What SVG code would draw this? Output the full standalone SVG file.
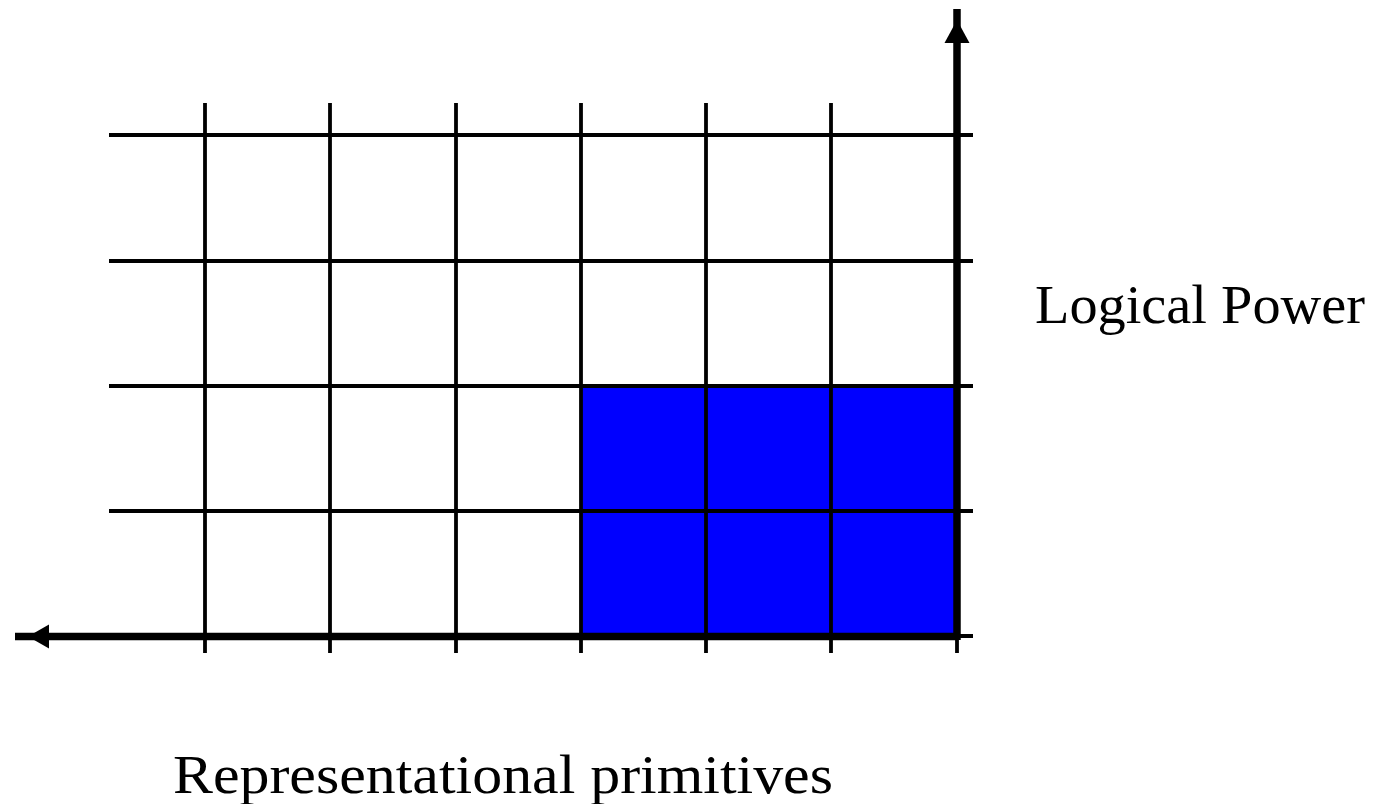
<svg xmlns="http://www.w3.org/2000/svg" width="1392" height="804" viewBox="0 0 1392 804">
<style>
.grid{stroke:#000;stroke-width:3.8;fill:none}
.axis{stroke:#000;stroke-width:7.5;fill:none}
.lbl{font-family:"Liberation Serif","DejaVu Serif",serif;font-size:54px;fill:#000}
</style>
<rect width="1392" height="804" fill="#fff"/>
<g id="filled-region">
<rect x="581" y="386" width="376" height="250" fill="#0000ff"/>
</g>
<g id="grid" class="grid">
<line x1="109" y1="135" x2="973" y2="135"/>
<line x1="109" y1="261" x2="973" y2="261"/>
<line x1="109" y1="386" x2="973" y2="386"/>
<line x1="109" y1="511" x2="973" y2="511"/>
<line x1="109" y1="636" x2="973" y2="636"/>
<line x1="205" y1="103" x2="205" y2="653"/>
<line x1="330" y1="103" x2="330" y2="653"/>
<line x1="456" y1="103" x2="456" y2="653"/>
<line x1="581" y1="103" x2="581" y2="653"/>
<line x1="706" y1="103" x2="706" y2="653"/>
<line x1="831" y1="103" x2="831" y2="653"/>
<line x1="957" y1="103" x2="957" y2="653"/>
</g>
<g id="connectors">
<line class="axis" x1="957" y1="636.5" x2="15" y2="636.5"/>
<polygon points="28,636.5 49,624.5 49,648.5" fill="#000"/>
<line class="axis" x1="957" y1="640" x2="957" y2="9"/>
<polygon points="957,20 944.5,43 969.5,43" fill="#000"/>
</g>
<g id="label-y">
<text class="lbl" x="1035" y="323" textLength="330" lengthAdjust="spacingAndGlyphs">Logical Power</text>
</g>
<g id="label-x">
<text class="lbl" x="173" y="793" textLength="660" lengthAdjust="spacingAndGlyphs">Representational primitives</text>
</g>
</svg>
